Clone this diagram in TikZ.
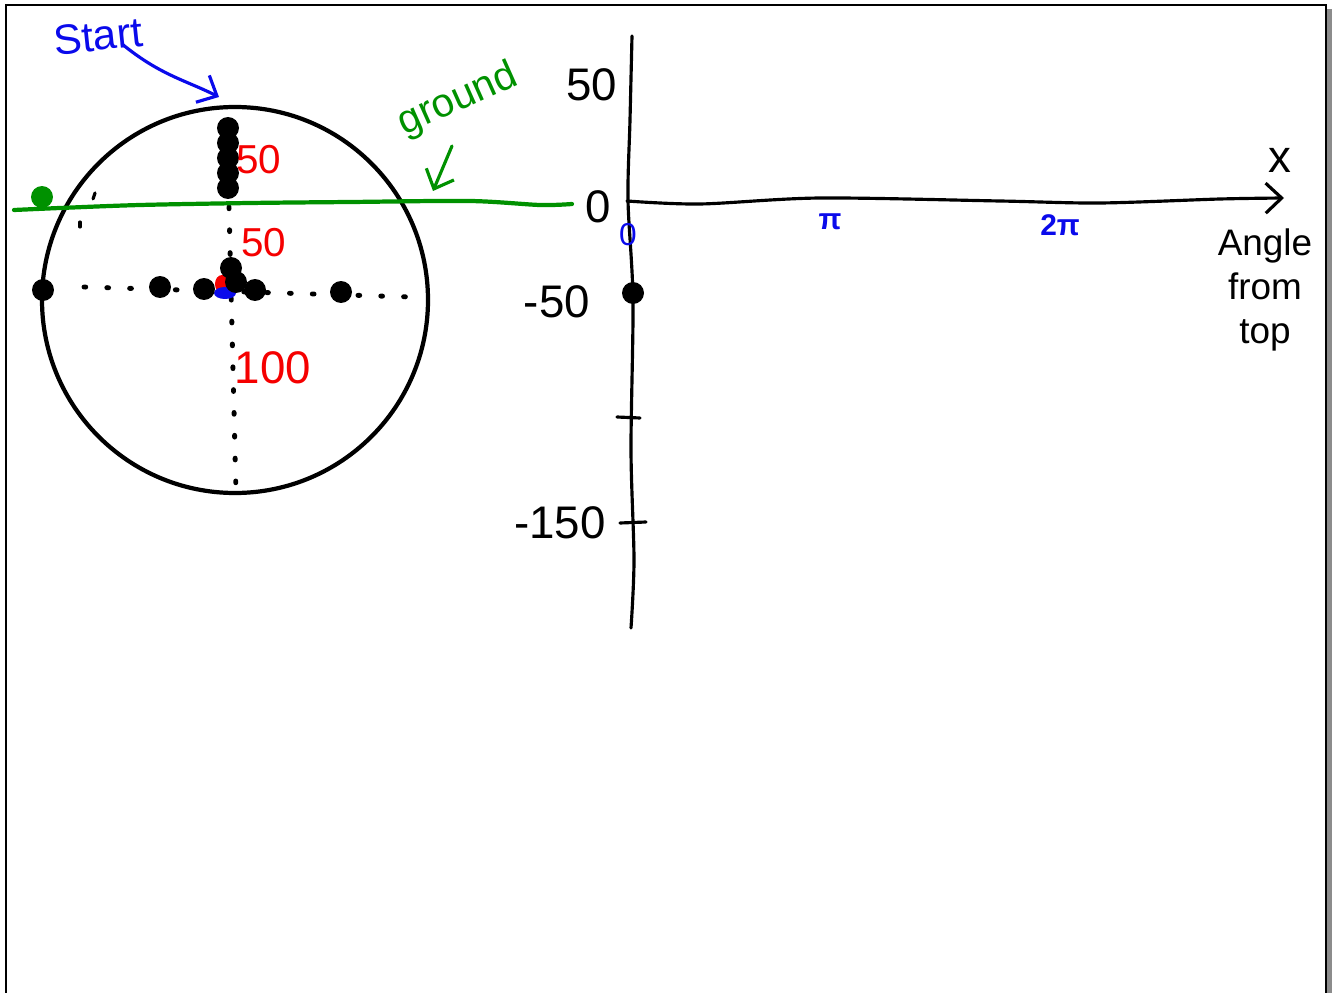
\documentclass[tikz,border=0pt]{standalone}
\usepackage{fontspec}
\setmainfont{Liberation Sans}
\usetikzlibrary{arrows.meta}
\definecolor{penblue}{RGB}{10,10,235}
\definecolor{pengreen}{RGB}{0,145,0}
\definecolor{penred}{RGB}{245,0,0}
\definecolor{shadowgray}{RGB}{140,140,140}

\begin{document}
\begin{tikzpicture}[
    x=0.02cm, y=-0.02cm,
    pen/.style={line width=1.8pt, line cap=round, line join=round},
    rim/.style={line width=2.4pt},
    dotline/.style={line width=2.8pt, line cap=round, dash pattern=on 1pt off 12pt},
    ball/.style={circle, fill=black, inner sep=0pt, minimum size=0.44cm},
    redlbl/.style={text=penred, font=\fontsize{23}{23}\selectfont, inner sep=0pt},
    axlbl/.style={text=black, font=\fontsize{26}{26}\selectfont, inner sep=0pt},
    bluelbl/.style={text=penblue, font=\bfseries\fontsize{17}{17}\selectfont, inner sep=0pt},
    barb/.style={-{Straight Barb[length=3.2mm, width=6mm, line width=1.8pt]}}
]
\useasboundingbox (0,0) rectangle (1336,993);

% page frame
\fill[shadowgray] (1327,9) rectangle (1332,993);
\draw[line width=1.4pt] (6,993) -- (6,5) -- (1326,5) -- (1326,993);

% wheel
\draw[rim] (235,300) circle[radius=193];
\draw[dotline] (229,207) -- (236,492);
\draw[dotline] (84,287) -- (412,297);
\draw[pen] (95,193) -- (93,199);
\draw[pen] (80,222) -- (80,227);

% ground
\draw[pen, pengreen, line width=2.4pt] plot[smooth] coordinates
    {(14,210) (60,208) (140,205) (250,203) (350,202) (470,201) (540,205) (572,204)};
\node[circle, fill=pengreen, inner sep=0pt, minimum size=0.44cm] (gdot) at (42,197) {};

% red / blue marks at the hub
\fill[penred] (222,284) ellipse[x radius=7, y radius=9];
\fill[penblue] (225,293) ellipse[x radius=11, y radius=6];

% positions
\foreach \yy [count=\i] in {128,143,158,173,188}
    \node[ball] (top\i) at (228,\yy) {};
\node[ball] (h1) at (43,290) {};
\node[ball] (h2) at (160,287) {};
\node[ball] (h3) at (204,289) {};
\node[ball] (h4) at (255,290) {};
\node[ball] (h5) at (341,292) {};
\node[ball] (c1) at (231,268) {};
\node[ball] (c2) at (236,282) {};

% distance labels
\node[redlbl] (d50a) at (259,160) {50};
\node[redlbl] (d50b) at (264,243) {50};
\node[redlbl, font=\fontsize{26}{26}\selectfont] (d100) at (273,368) {100};

% notes
\node[text=penblue, font=\fontsize{24}{24}\selectfont, rotate=6] (start) at (98,36) {Start};
\coordinate (starttip) at (219,97);
\draw[pen, penblue, barb] (122,44) .. controls (160,75) and (185,80) .. (starttip);

\node[text=pengreen, font=\fontsize{23}{23}\selectfont, rotate=24] (ground) at (458,100) {ground};
\coordinate (groundtip) at (433,191);
\draw[pen, pengreen, barb] (452,146) -- (groundtip);

% graph axes
\coordinate (ytop) at (632,36);
\coordinate (ybot) at (631,628);
\coordinate (xorg) at (627,201);
\coordinate (xend) at (1284,198);
\draw[pen] plot[smooth] coordinates {(ytop) (630,120) (628,200) (633,300) (631,450) (634,560) (ybot)};
\draw[pen, barb] plot[smooth] coordinates {(xorg) (700,204) (820,198) (1000,201) (1100,203) (1220,199) (xend)};
\draw[pen] (617,417) -- (640,418);
\draw[pen] (620,523) -- (646,522);

\node[axlbl] (y50) at (592,85) {50};
\node[axlbl] (y0) at (598,207) {0};
\node[axlbl] (ym50) at (557,302) {-50};
\node[axlbl] (ym150) at (560,523) {-150};

\node[text=penblue, font=\fontsize{18}{18}\selectfont, inner sep=0pt] (x0) at (628,235) {0};
\node[bluelbl] (xpi) at (830,222) {π};
\node[bluelbl] (x2pi) at (1060,225) {2π};
\node[axlbl] (xname) at (1280,160) {x};
\node[axlbl, align=center, font=\fontsize{21}{25}\selectfont] (xdesc) at (1265,290) {Angle\\from\\top};

\node[ball] (pt0) at (633,293) {};
\end{tikzpicture}
\end{document}
